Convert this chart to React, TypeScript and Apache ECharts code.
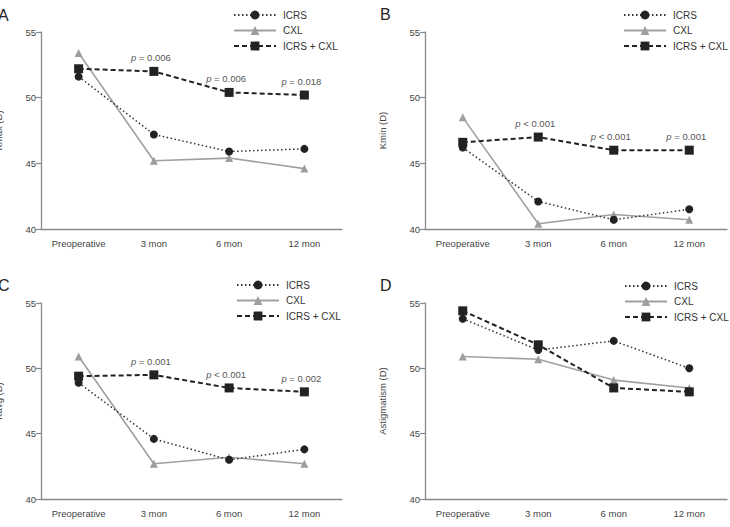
import React, { useEffect, useRef } from "react";
import * as echarts from "echarts";

const categories = ["Preoperative", "3 mon", "6 mon", "12 mon"];
const seriesNames = ["ICRS", "CXL", "ICRS + CXL"];

const icrsA = [51.6, 47.2, 45.9, 46.1];
const cxlA = [53.4, 45.2, 45.4, 44.6];
const comboA = [52.2, 52.0, 50.4, 50.2];
const pA = ["", "p = 0.006", "p = 0.006", "p = 0.018"];

const icrsB = [46.2, 42.1, 40.7, 41.5];
const cxlB = [48.5, 40.4, 41.1, 40.7];
const comboB = [46.6, 47.0, 46.0, 46.0];
const pB = ["", "p < 0.001", "p < 0.001", "p = 0.001"];

const icrsC = [48.9, 44.6, 43.0, 43.8];
const cxlC = [50.9, 42.7, 43.2, 42.7];
const comboC = [49.4, 49.5, 48.5, 48.2];
const pC = ["", "p = 0.001", "p < 0.001", "p = 0.002"];

const icrsD = [53.8, 51.4, 52.1, 50.0];
const cxlD = [50.9, 50.7, 49.1, 48.5];
const comboD = [54.4, 51.8, 48.5, 48.2];
const pD = ["", "", "", ""];

const yNames = ["Kmax (D)", "Kmin (D)", "Kavg (D)", "Astigmatism (D)"];
const panelLetters = ["A", "B", "C", "D"];
const yMin = 40;
const yMax = 55;
const yInterval = 5;

const panels = [
  { icrs: icrsA, cxl: cxlA, combo: comboA, p: pA },
  { icrs: icrsB, cxl: cxlB, combo: comboB, p: pB },
  { icrs: icrsC, cxl: cxlC, combo: comboC, p: pC },
  { icrs: icrsD, cxl: cxlD, combo: comboD, p: pD },
];

const FONT = "Liberation Sans, Arial, Helvetica, sans-serif";
const grids = [
  { left: 41, top: 32, width: 301, height: 197 },
  { left: 425, top: 32, width: 302, height: 197 },
  { left: 41, top: 303, width: 301, height: 196 },
  { left: 425, top: 303, width: 302, height: 196 },
];
const legendPos = [
  { left: 233, top: 10 },
  { left: 623, top: 10 },
  { left: 236, top: 280 },
  { left: 624, top: 281 },
];
const letterPos = [
  { x: -2, y: 15 },
  { x: 380, y: 14 },
  { x: -2, y: 285 },
  { x: 380, y: 285 },
];

export default function App() {
  const ref = useRef<HTMLDivElement>(null);
  useEffect(() => {
    if (!ref.current) return;
    const chart = echarts.init(ref.current, null, { renderer: "svg" });
    const axisColor = "#8a8a8a";
    const labelColor = "#444";

    const xAxes = grids.map((_, i) => ({
      type: "category",
      gridIndex: i,
      data: categories,
      boundaryGap: true,
      axisLine: { lineStyle: { color: axisColor, width: 1.3 } },
      axisTick: { alignWithLabel: true, length: 6, lineStyle: { color: axisColor, width: 1.2 } },
      axisLabel: { color: labelColor, fontSize: 9.5, fontFamily: FONT, margin: 9, interval: 0, hideOverlap: false },
      splitLine: { show: false },
    }));
    const yAxes = grids.map((_, i) => ({
      type: "value",
      gridIndex: i,
      min: yMin,
      max: yMax,
      interval: yInterval,
      name: yNames[i],
      nameLocation: "middle",
      nameGap: 38,
      nameTextStyle: { color: labelColor, fontSize: 9.5, fontFamily: FONT },
      axisLine: { show: true, lineStyle: { color: axisColor, width: 1.3 } },
      axisTick: { show: true, length: 5, lineStyle: { color: axisColor, width: 1.2 } },
      axisLabel: { color: labelColor, fontSize: 9.5, fontFamily: FONT, margin: 5 },
      splitLine: { show: false },
    }));

    const series: any[] = [];
    panels.forEach((pn, i) => {
      series.push({
        type: "line",
        name: seriesNames[0],
        xAxisIndex: i,
        yAxisIndex: i,
        data: pn.icrs,
        symbol: "circle",
        symbolSize: 8,
        itemStyle: { color: "#222" },
        lineStyle: { color: "#333", width: 1.5, type: [1.5, 2.5] },
        z: 3,
      });
      series.push({
        type: "line",
        name: seriesNames[1],
        xAxisIndex: i,
        yAxisIndex: i,
        data: pn.cxl,
        symbol: "triangle",
        symbolSize: 8,
        itemStyle: { color: "#9e9e9e" },
        lineStyle: { color: "#a0a0a0", width: 1.6, type: "solid" },
        z: 2,
      });
      series.push({
        type: "line",
        name: seriesNames[2],
        xAxisIndex: i,
        yAxisIndex: i,
        data: pn.combo.map((v, j) => ({
          value: v,
          label: {
            show: pn.p[j] !== "",
            formatter: pn.p[j] ? "{i|p}" + pn.p[j].slice(1) : "",
          },
        })),
        symbol: "rect",
        symbolSize: 9,
        itemStyle: { color: "#222" },
        lineStyle: { color: "#222", width: 2, type: [5, 3] },
        label: {
          position: "top",
          distance: 4,
          offset: [-3, 0],
          color: "#555",
          fontSize: 9.5,
          fontFamily: FONT,
          rich: { i: { fontStyle: "italic", color: "#555", fontSize: 9.5, fontFamily: FONT } },
        },
        z: 4,
      });
    });

    const legends = legendPos.map((lp) => ({
      orient: "vertical",
      left: lp.left,
      top: lp.top,
      padding: 0,
      data: seriesNames,
      itemWidth: 42,
      itemHeight: 11,
      itemGap: 5.5,
      selectedMode: false,
      textStyle: { color: "#333", fontSize: 10, fontFamily: FONT, padding: [0, 0, 0, 2] },
    }));

    const graphics = letterPos.map((p, i) => ({
      type: "text",
      x: p.x,
      y: p.y,
      style: {
        text: panelLetters[i],
        fontSize: 16,
        fontFamily: FONT,
        fill: "#222",
        verticalAlign: "middle",
        align: "left",
      },
    }));

    chart.setOption({
      animation: false,
      backgroundColor: "#fff",
      grid: grids.map((g) => ({ ...g, containLabel: false, outerBoundsMode: "none" })),
      xAxis: xAxes,
      yAxis: yAxes,
      legend: legends,
      series,
      graphic: graphics,
    });
    return () => chart.dispose();
  }, []);
  return (
    <div
      ref={ref}
      style={{ position: "fixed", left: 0, top: 0, width: 730, height: 527 }}
    />
  );
}
